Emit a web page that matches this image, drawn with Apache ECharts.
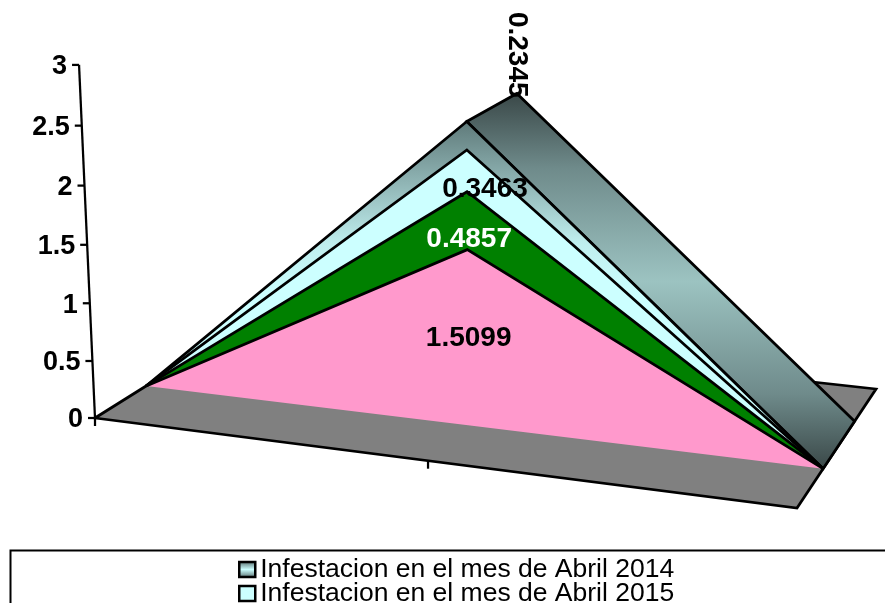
<!DOCTYPE html>
<html>
<head>
<meta charset="utf-8">
<style>
	html, body { margin: 0; padding: 0; background: #fff; }
	#chart { width: 885px; height: 603px; }
</style>
</head>
<body>
<div id="chart"></div>
<script src="https://cdn.jsdelivr.net/npm/echarts@6/dist/echarts.min.js"></script>
<script>
const categories = ['', '', ''];
const yTicks = [0, 0.5, 1, 1.5, 2, 2.5, 3];

const abril2014 = [0, 0.2345, 0];
const abril2015 = [0, 0.3463, 0];
const abril2016 = [0, 0.4857, 0];
const abril2017 = [0, 1.5099, 0];

const names = [
	'Infestacion en el mes de Abril 2014',
	'Infestacion en el mes de Abril 2015',
	'Infestacion en el mes de Abril 2016',
	'Infestacion en el mes de Abril 2017'
];

// stack order, bottom first
const stackOrder = [abril2017, abril2016, abril2015, abril2014];

const FONT = '"Liberation Sans", Arial, sans-serif';
const yMax = yTicks[yTicks.length - 1];
const EDGE = 2.75;

// floor of the 3d box on screen: front left, front right, back right, back left
const floor = [[95, 418], [797, 508], [876, 389], [251.5, 320]];
const depthFront = 0.3; // where the areas start in the box
const depthBack = 0.7;
const riseY = 118.5; // px per unit of value
const riseX = -6.3;
const riseW = 0.0124;

const dx1 = floor[1][0] - floor[2][0], dx2 = floor[3][0] - floor[2][0];
const dy1 = floor[1][1] - floor[2][1], dy2 = floor[3][1] - floor[2][1];
const sx = floor[0][0] - floor[1][0] + floor[2][0] - floor[3][0];
const sy = floor[0][1] - floor[1][1] + floor[2][1] - floor[3][1];
const den = dx1 * dy2 - dx2 * dy1;
const g = (sx * dy2 - dx2 * sy) / den;
const h = (dx1 * sy - sx * dy1) / den;
const a = floor[1][0] - floor[0][0] + g * floor[1][0];
const b = floor[3][0] - floor[0][0] + h * floor[3][0];
const d = floor[1][1] - floor[0][1] + g * floor[1][1];
const e = floor[3][1] - floor[0][1] + h * floor[3][1];

// u across categories, depth into the box, v is the value
function project(u, depth, v) {
	const w = 1 + g * u + h * depth - riseW * v;
	return [
		(a * u + b * depth + floor[0][0] + riseX * v) / w,
		(d * u + e * depth + floor[0][1] - riseY * v) / w
	];
}

// goes through the (hidden) cartesian axes, then into the 3d box
function toBox(api, params, catIndex, value, depth) {
	const cs = params.coordSys;
	const pt = api.coord([catIndex, value]);
	const u = (pt[0] - cs.x) / cs.width;
	const v = (cs.y + cs.height - pt[1]) / cs.height * yMax;
	return project(u, depth, v);
}

function stackBelow(level, i) {
	let sum = 0;
	for (let k = 0; k < level; k++) sum += stackOrder[k][i];
	return sum;
}

function line(points, width) {
	return {
		type: 'polyline',
		shape: { points: points },
		style: { fill: null, stroke: '#000', lineWidth: width || EDGE }
	};
}

function sideGradient(y1, y2, dark, light) {
	return {
		type: 'linear', global: true, x: 0, y: y1, x2: 0, y2: y2,
		colorStops: [
			{ offset: 0, color: dark },
			{ offset: 0.2, color: '#6f8b8b' },
			{ offset: 0.5, color: light },
			{ offset: 0.8, color: '#6f8b8b' },
			{ offset: 1, color: dark }
		]
	};
}

function frontGradient(y1, y2) {
	return {
		type: 'linear', global: true, x: 0, y: y1, x2: 0, y2: y2,
		colorStops: [
			{ offset: 0, color: '#5f7a7a' },
			{ offset: 0.35, color: '#bfeeee' },
			{ offset: 0.5, color: '#ccffff' },
			{ offset: 1, color: '#ccffff' }
		]
	};
}

const areaStyles = [
	{ fill: '#FF99CC', text: '#000', offset: [1, 0] },
	{ fill: '#008000', text: '#fff', offset: [2, 19] },
	{ fill: '#CCFFFF', text: '#000', offset: [18, 18] },
	{ fill: null, text: '#000', offset: [50, -81], rotate: true }
];

function renderArea(level) {
	return function (params, api) {
		if (params.dataIndex !== 0) return;
		const last = categories.length - 1;
		const upper = [], lower = [];
		categories.forEach(function (c, i) {
			const base = stackBelow(level, i);
			upper.push(toBox(api, params, i, base + stackOrder[level][i], depthFront));
			lower.unshift(toBox(api, params, i, base, depthFront));
		});
		const children = [];
		const isTop = level === stackOrder.length - 1;
		let fill = areaStyles[level].fill;
		if (isTop) {
			const backUpper = categories.map(function (c, i) {
				return toBox(api, params, i, stackBelow(level, i) + stackOrder[level][i], depthBack);
			});
			const side = [upper[1], backUpper[1], backUpper[last], upper[last]];
			children.push({
				type: 'polygon',
				shape: { points: side },
				style: { fill: sideGradient(backUpper[1][1], upper[last][1], '#3a4848', '#9cc3c1'), stroke: '#000', lineWidth: EDGE }
			});
			fill = frontGradient(upper[1][1], upper[last][1]);
		}
		children.push({
			type: 'polygon',
			shape: { points: upper.concat(lower) },
			style: { fill: fill }
		});
		children.push(line(upper));

		// the value label sits at the middle of the band, moved by hand like in the original
		const val = stackOrder[level][1];
		const mid = toBox(api, params, 1, stackBelow(level, 1) + val / 2, depthFront);
		const st = areaStyles[level];
		children.push({
			type: 'text',
			z2: 10,
			x: mid[0] + st.offset[0],
			y: mid[1] + st.offset[1],
			rotation: st.rotate ? -Math.PI / 2 : 0,
			style: {
				text: val.toFixed(4),
				font: 'bold 28px ' + FONT,
				fill: st.text,
				align: 'center',
				verticalAlign: 'middle'
			}
		});
		return { type: 'group', children: children };
	};
}

function renderFloor(params, api) {
	if (params.dataIndex !== 0) return;
	const last = categories.length - 1;
	const corners = [
		toBox(api, params, 0, 0, 0),
		toBox(api, params, last, 0, 0),
		toBox(api, params, last, 0, 1),
		toBox(api, params, 0, 0, 1)
	];
	return {
		type: 'polygon',
		shape: { points: corners },
		style: { fill: '#808080', stroke: '#000', lineWidth: EDGE }
	};
}

function renderAxes(params, api) {
	if (params.dataIndex !== 0) return;
	const children = [];
	const bottom = toBox(api, params, 0, 0, 0);
	const top = toBox(api, params, 0, yMax, 0);
	children.push(line([bottom, top], 2.25));
	yTicks.forEach(function (t) {
		const p = toBox(api, params, 0, t, 0);
		children.push(line([[p[0] - 7, p[1]], p], 2.25));
		children.push({
			type: 'text',
			x: p[0] - 12,
			y: p[1] + 2,
			style: {
				text: String(t),
				font: 'bold 27px ' + FONT,
				fill: '#000',
				align: 'right',
				verticalAlign: 'middle'
			}
		});
	});
	categories.slice(0, -1).forEach(function (c, i) {
		const p = toBox(api, params, i, 0, 0);
		children.push(line([p, [p[0], p[1] + 8]], 2.25));
	});
	return { type: 'group', children: children };
}

const catData = categories.map(function (c, i) { return [i, 0]; });

const seriesList = [
	{ type: 'custom', name: 'axes', data: catData, renderItem: renderAxes, silent: true },
	{ type: 'custom', name: 'floor', data: catData, renderItem: renderFloor, silent: true }
];
// legend lists the top of the stack first
stackOrder.slice().reverse().forEach(function (vals, idx) {
	const level = stackOrder.length - 1 - idx;
	seriesList.push({
		type: 'custom',
		name: names[idx],
		data: vals.map(function (v, i) { return [i, v]; }),
		renderItem: renderArea(level),
		silent: true
	});
});

const swatchGradient = {
	type: 'linear', x: 0, y: 0, x2: 0, y2: 1,
	colorStops: [
		{ offset: 0, color: '#4f6464' },
		{ offset: 0.5, color: '#ccffff' },
		{ offset: 1, color: '#4f6464' }
	]
};
const legendColors = [swatchGradient, '#CCFFFF', '#008000', '#FF99CC'];

const myChart = echarts.init(document.getElementById('chart'), null, { renderer: 'canvas' });
myChart.setOption({
	animation: false,
	backgroundColor: '#fff',
	grid: { left: 60, right: 60, top: 40, bottom: 80 },
	xAxis: { type: 'category', data: categories, boundaryGap: false, show: false },
	yAxis: { type: 'value', min: 0, max: yMax, interval: 0.5, show: false },
	legend: {
		orient: 'vertical',
		left: 238,
		top: 556,
		height: 200,
		padding: 0,
		itemGap: -3,
		itemWidth: 16,
		itemHeight: 15,
		selectedMode: false,
		data: names.map(function (n, i) {
			return {
				name: n,
				icon: 'rect',
				itemStyle: { color: legendColors[i], borderColor: '#000', borderWidth: 2.5 }
			};
		}),
		textStyle: { fontFamily: FONT, fontSize: 26.5, color: '#000', lineHeight: 23 }
	},
	graphic: [{
		type: 'rect',
		left: 8,
		top: 548,
		shape: { width: 900, height: 100 },
		style: { fill: null, stroke: '#000', lineWidth: 2 }
	}],
	series: seriesList
});
</script>
</body>
</html>
